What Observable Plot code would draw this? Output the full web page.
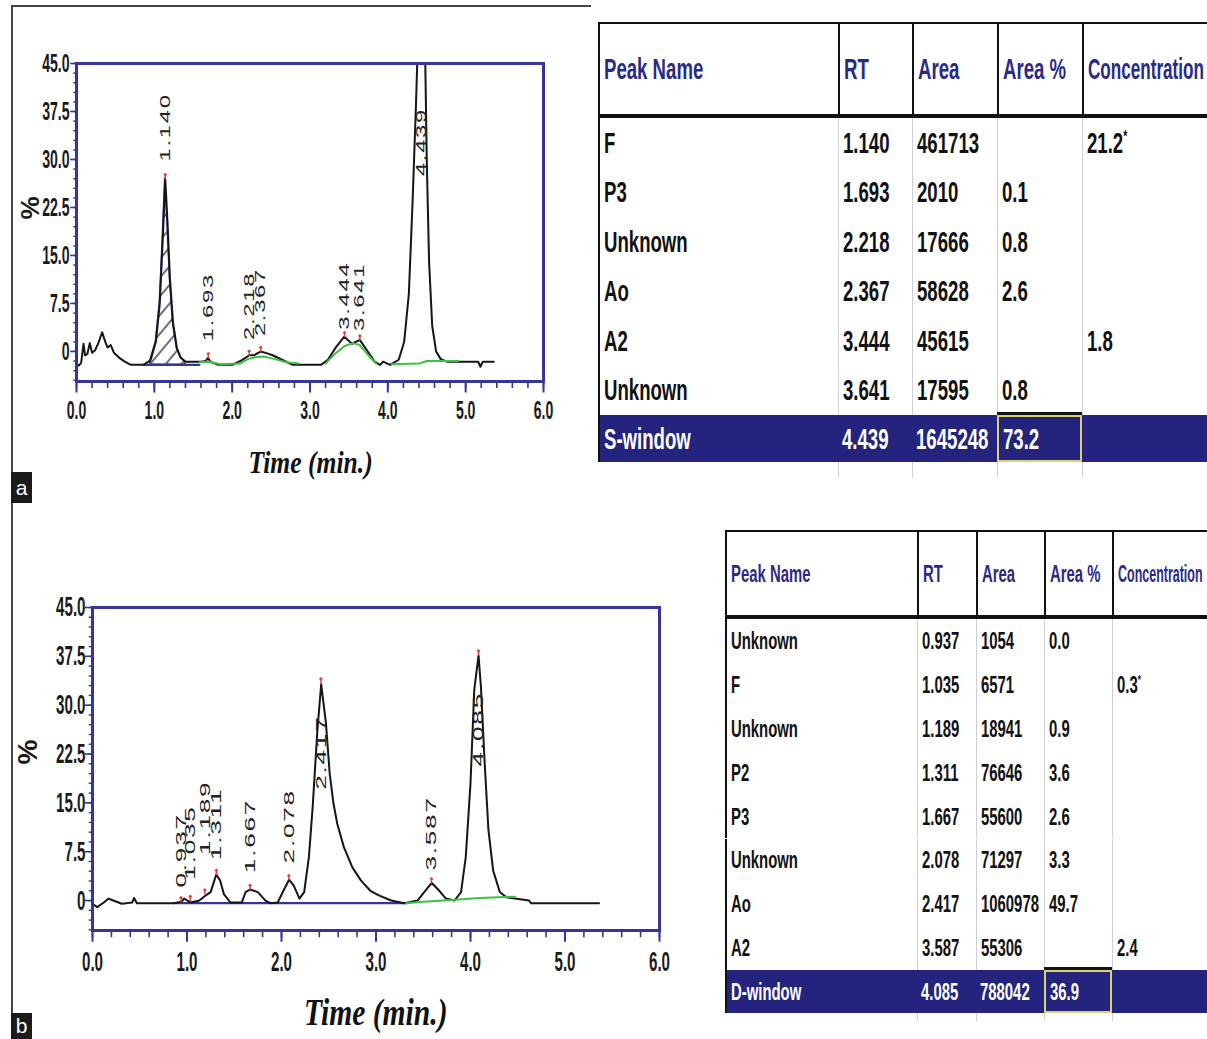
<!DOCTYPE html>
<html><head><meta charset="utf-8">
<script src="https://cdn.jsdelivr.net/npm/d3@7"></script>
<script src="https://cdn.jsdelivr.net/npm/@observablehq/plot@0.6"></script>
<style>
body{margin:0;background:#fff;}
#root{position:relative;width:1207px;height:1039px;overflow:hidden;background:#fff;font-family:"Liberation Sans",Arial,sans-serif;}
.abs{position:absolute;}
.sq{display:inline-block;transform-origin:0 50%;white-space:nowrap;}
.cell{position:absolute;box-sizing:border-box;display:flex;align-items:center;padding-left:4px;overflow:visible;font-weight:bold;}
</style></head>
<body><div id="root"></div>
<script>
// ---------------- DATA ----------------
// Panel a chromatogram trace: [time (min), signal (%)]
const traceA = [
[0.00,-2.0],[0.03,-2.2],[0.06,-1.8],[0.09,1.2],[0.11,-0.6],[0.14,-0.4],[0.17,1.3],[0.20,-0.2],[0.24,0.2],[0.28,1.3],
[0.33,3.0],[0.37,1.5],[0.40,0.6],[0.44,1.0],[0.48,-0.2],[0.55,-1.0],[0.62,-1.6],[0.70,-2.1],[0.86,-2.1],[0.95,-1.4],
[1.02,1.5],[1.07,7.5],[1.11,18.0],[1.14,27.0],[1.17,20.0],[1.20,11.5],[1.24,4.5],[1.29,0.5],[1.34,-1.0],[1.40,-1.6],
[1.60,-1.6],[1.66,-1.5],[1.69,-1.0],[1.72,-1.6],[1.82,-2.1],[2.00,-2.1],[2.12,-1.4],[2.22,-0.6],[2.28,-0.6],[2.37,0.0],
[2.45,-0.3],[2.52,-0.6],[2.64,-1.3],[2.78,-2.1],[3.14,-2.1],[3.23,-1.3],[3.33,0.6],[3.44,2.3],[3.54,1.2],[3.64,1.8],
[3.74,0.0],[3.83,-1.6],[3.90,-2.1],[3.94,-1.6],[4.03,-2.1],[4.14,-1.3],[4.21,1.5],[4.27,9.0],[4.32,24.0],[4.36,38.0],
[4.38,46.0],[4.44,62.0],[4.48,46.0],[4.50,30.0],[4.53,14.0],[4.57,4.0],[4.62,0.0],[4.68,-1.2],[4.76,-1.6],[4.90,-1.6],
[5.16,-1.6],[5.19,-2.4],[5.22,-1.6],[5.36,-1.6]
];
// Panel a peaks: [retention time, apex signal, label foot]
const peaksA = [[1.140,27.0,29.7],[1.693,-1.0,1.6],[2.218,-0.6,1.8],[2.367,0.0,2.4],[3.444,2.3,3.4],[3.641,1.8,3.2],[4.439,46,27.4]];
const baseA = [[0.86,-2.1],[1.58,-2.1]];
const greenA = [
["g1",1.58,-1.7],["g1",1.70,-1.6],["g1",1.85,-2.0],["g1",2.10,-1.9],["g1",2.20,-1.2],["g1",2.30,-0.9],["g1",2.40,-0.8],["g1",2.55,-1.2],["g1",2.70,-1.7],["g1",2.85,-1.9],
["g2",3.20,-1.9],["g2",3.30,-0.6],["g2",3.44,0.8],["g2",3.55,1.3],["g2",3.64,1.0],["g2",3.75,-0.6],["g2",3.85,-1.9],
["g3",4.05,-2.0],["g3",4.40,-1.9],["g3",4.50,-1.5],["g3",4.90,-1.5]
];
const hatchA = [0.95, 1.40, -2.1];

// Panel b chromatogram trace
const traceB = [
[0.00,-0.5],[0.05,-1.0],[0.12,-0.3],[0.17,0.3],[0.22,0.0],[0.31,-0.5],[0.42,-0.3],[0.44,0.4],[0.47,-0.4],[0.86,-0.4],
[0.94,-0.2],[0.97,0.3],[1.04,-0.3],[1.13,0.0],[1.20,0.8],[1.25,1.3],[1.31,4.0],[1.35,3.1],[1.39,1.0],[1.46,-0.3],
[1.58,-0.3],[1.62,1.3],[1.67,1.7],[1.75,1.3],[1.83,0.0],[1.88,-0.4],[1.96,-0.3],[2.02,1.5],[2.08,3.2],[2.13,2.3],
[2.19,0.3],[2.24,1.3],[2.29,6.7],[2.33,14.4],[2.38,26.2],[2.42,33.2],[2.47,27.3],[2.51,19.5],[2.55,14.9],[2.59,11.8],
[2.66,8.2],[2.75,5.1],[2.84,3.1],[2.94,1.5],[3.03,0.8],[3.16,0.0],[3.30,-0.4],[3.44,0.0],[3.51,1.3],[3.59,2.7],
[3.67,1.5],[3.74,0.3],[3.83,0.0],[3.90,1.3],[3.95,6.7],[4.00,18.0],[4.04,32.4],[4.085,37.6],[4.11,32.9],[4.15,21.1],
[4.19,10.8],[4.24,4.6],[4.31,1.3],[4.38,0.5],[4.47,0.3],[4.62,0.0],[4.64,-0.4],[5.36,-0.4]
];
const peaksB = [[0.937,-0.2,2.0],[1.035,0.0,3.2],[1.189,1.0,7.0],[1.311,4.0,6.2],[1.667,1.7,4.2],[2.078,3.2,5.7],[2.417,33.4,17.0],[3.587,2.7,4.6],[4.085,37.7,20.6]];
const baseB = [[0.86,-0.4],[3.32,-0.4]];
const greenB = [["g1",3.32,-0.4],["g1",3.50,-0.2],["g1",3.80,0.1],["g1",4.10,0.4],["g1",4.47,0.6]];

// Axis ticks
const xTicks = [0,1,2,3,4,5,6];
const xMinor = d3.range(0, 6.01, 0.2).map(v => +v.toFixed(1));
const yTicks = [0,7.5,15,22.5,30,37.5,45];
const yMinor = d3.range(-4.5, 45.01, 1.5).map(v => +v.toFixed(1));

// Tables
const colsT = ["Peak Name","RT","Area","Area %","Concentration"];
const namesA = ["F","P3","Unknown","Ao","A2","Unknown","S-window"];
const rtA = ["1.140","1.693","2.218","2.367","3.444","3.641","4.439"];
const areaA = ["461713","2010","17666","58628","45615","17595","1645248"];
const pctA = ["","0.1","0.8","2.6","","0.8","73.2"];
const concA = ["21.2*","","","","1.8","",""];
const namesB = ["Unknown","F","Unknown","P2","P3","Unknown","Ao","A2","D-window"];
const rtB = ["0.937","1.035","1.189","1.311","1.667","2.078","2.417","3.587","4.085"];
const areaB = ["1054","6571","18941","76646","55600","71297","1060978","55306","788042"];
const pctB = ["0.0","","0.9","3.6","2.6","3.3","49.7","","36.9"];
const concB = ["","0.3*","","","","","","2.4",""];

// ---------------- DRAW ----------------
const navy = "#35359a";
const root = document.getElementById("root");
function div(css, html){ const d=document.createElement("div"); d.className="abs"; Object.assign(d.style, css); if(html!=null) d.innerHTML=html; root.appendChild(d); return d; }

function chromatogram(c){
  const X = d=>d[0], Y = d=>d[1];
  const yMin = c.yMin;
  const marks = [];
  if (c.hatch) marks.push(Plot.areaY(c.trace.filter(d=>d[0]>=c.hatch[0]&&d[0]<=c.hatch[1]), {x:X, y1:c.hatch[2], y2:Y, fill:"url(#"+c.id+"h)", stroke:navy, strokeWidth:1.6}));
  marks.push(
    Plot.line(c.base, {x:X, y:Y, stroke:navy, strokeWidth:2.2}),
    Plot.line(c.trace, {x:X, y:Y, stroke:"#151515", strokeWidth:2, clip:true}),
    Plot.line(c.green, {x:d=>d[1], y:d=>d[2], z:d=>d[0], stroke:"#3dc23d", strokeWidth:2}),
    Plot.vector(c.peaks, {x:d=>d[0], y:d=>d[1], length:5, anchor:"start", stroke:"#e23a3a", strokeWidth:1.5, clip:true}),
    Plot.text(c.peaks, {x:d=>d[0], y:d=>d[2], text:d=>d3.format(".3f")(d[0]), rotate:-90, textAnchor:"start", fontSize:c.labFs, fill:"#222", ariaDescription:"peaklab"}),
    Plot.frame({stroke:navy, strokeWidth:3}),
    Plot.ruleX(xMinor, {x:d=>d, y1:yMin, y2:yMin-1.1, stroke:navy, strokeWidth:1.6}),
    Plot.ruleX(xTicks, {x:d=>d, y1:yMin, y2:yMin-1.8, stroke:navy, strokeWidth:2}),
    Plot.ruleY(yMinor, {y:d=>d, x1:0, x2:-0.035, stroke:navy, strokeWidth:1.4}),
    Plot.ruleY(yTicks, {y:d=>d, x1:0, x2:-0.075, stroke:navy, strokeWidth:1.6}),
    Plot.text(xTicks, {x:d=>d, frameAnchor:"bottom", dy:c.xdy, text:d=>d.toFixed(1), fontSize:c.fs, fontWeight:"bold", fill:"#1a1a1a", ariaDescription:"ticklab"}),
    Plot.text(yTicks, {y:d=>d, frameAnchor:"left", dx:-7, textAnchor:"end", text:d=>d===0?"0":d.toFixed(1), fontSize:c.fs, fontWeight:"bold", fill:"#1a1a1a", ariaDescription:"ticklab"})
  );
  const p = Plot.plot({
    width:c.W, height:c.H, marginLeft:c.mL, marginRight:c.mR, marginTop:c.mT, marginBottom:c.mB,
    x:{domain:[0,6], axis:null}, y:{domain:[yMin,45], axis:null},
    style:{background:"transparent", overflow:"visible", fontFamily:"Liberation Sans, Arial, sans-serif"},
    marks
  });
  const s = d3.select(p);
  s.insert("defs", ":first-child").html(`<pattern id="${c.id}h" patternUnits="userSpaceOnUse" width="12" height="12" patternTransform="rotate(40)"><line x1="1" y1="0" x2="1" y2="12" stroke="#222" stroke-width="1.3"/></pattern>`);
  const addScale = (sel, sc) => s.selectAll(sel).each(function(){
    const t = this.getAttribute("transform");
    if (t) this.setAttribute("transform", t + ` scale(${sc},1)`);
    else {
      const x = this.getAttribute("x") || 0, y = this.getAttribute("y") || 0;
      this.removeAttribute("x"); this.removeAttribute("y");
      this.setAttribute("transform", `translate(${x},${y}) scale(${sc},1)`);
    }
  });
  addScale('[aria-description="peaklab"] text', c.labScale);
  addScale('[aria-description="ticklab"] text', c.tickScale);
  s.selectAll('[aria-description="peaklab"] text').style("letter-spacing","1px");
  p.style.position="absolute"; p.style.left=c.left+"px"; p.style.top=c.top+"px";
  root.appendChild(p);
}

chromatogram({id:"A", trace:traceA, peaks:peaksA, base:baseA, green:greenA, hatch:hatchA,
  left:0, top:0, W:600, H:500, mL:76, mR:57, mT:63, mB:119, yMin:-4.7, fs:26, tickScale:0.54, xdy:37, labFs:14, labScale:1.7});
chromatogram({id:"B", trace:traceB, peaks:peaksB, base:baseB, green:greenB, hatch:null,
  left:0, top:540, W:720, H:499, mL:92, mR:61, mT:67, mB:109, yMin:-4.6, fs:28, tickScale:0.54, xdy:40, labFs:15, labScale:1.75});

// axis titles
function ytitle(x,y,fs){ div({left:(x-20)+"px", top:(y-20)+"px", width:"40px", height:"40px", display:"flex", alignItems:"center", justifyContent:"center", transform:"rotate(-90deg)", fontSize:fs+"px", fontWeight:"bold", color:"#1a1a1a"}, "%"); }
ytitle(30,208,26); ytitle(28,752,28);
function xtitle(x,y,fs){ div({left:(x-150)+"px", top:(y-25)+"px", width:"300px", height:"50px", display:"flex", alignItems:"center", justifyContent:"center"},
  `<span style="display:inline-block;transform:scaleX(0.8);font-family:'Liberation Serif',serif;font-style:italic;font-weight:bold;font-size:${fs}px;color:#111">Time (min.)</span>`); }
xtitle(311,462,32); xtitle(376,1012,37);

// panel border + letters
div({left:"11px", top:"5px", width:"1.5px", height:"1034px", background:"#444"});
div({left:"11px", top:"5px", width:"580px", height:"1.5px", background:"#444"});
function letter(t,top,h){ div({left:"11px", top:top+"px", width:"21px", height:h+"px", background:"#1b1b1b", color:"#fff", fontSize:"21px", display:"flex", alignItems:"center", justifyContent:"center", fontFamily:"Liberation Sans, Arial"}, t); }
letter("a",472,31); letter("b",1013,26);

// tables
function table(cfg, cols){
  const L = cfg.edges[0];
  const edges = cfg.edges.concat([1207]);
  const n = cols[0].length;
  const sq = (t, sc) => `<span class="sq" style="transform:scaleX(${sc})">${t.replace("*","<sup style='font-size:55%'>*</sup>")}</span>`;
  const hTop = cfg.top;
  div({left:L+"px", top:hTop+"px", width:(1207-L)+"px", height:"2px", background:"#111"});
  colsT.forEach((h,i)=>{
    const c = div({left:edges[i]+"px", top:(hTop+2)+"px", width:(edges[i+1]-edges[i])+"px", height:(cfg.headH-6)+"px", borderLeft:"2px solid #111", color:"#2a2a86", fontSize:cfg.hfs+"px"}, sq(h, i===4?cfg.hsc4:cfg.sc));
    c.classList.add("cell");
  });
  div({left:L+"px", top:(hTop+cfg.headH-4)+"px", width:(1207-L)+"px", height:"4px", background:"#111"});
  const bodyTop = hTop + cfg.headH;
  for(let r=0;r<n;r++){
    const last = r===n-1;
    const top = bodyTop + r*cfg.rowH;
    const h = last ? cfg.lastH : cfg.rowH;
    if(last) div({left:L+"px", top:top+"px", width:(1207-L)+"px", height:h+"px", background:"#24247e"});
    cols.forEach((col,i)=>{
      const css = {left:edges[i]+"px", top:top+"px", width:(edges[i+1]-edges[i])+"px", height:h+"px", color:last?"#fff":"#111", fontSize:cfg.fs+"px",
        borderLeft: i===0 ? "2px solid #111" : (last ? "none" : "1px solid #cfcfd8")};
      if(last && i===3){ css.border="2px solid #d9d272"; }
      const c = div(css, sq(col[r], cfg.sc));
      c.classList.add("cell");
      if(last && i===3) div({left:edges[i]+"px", top:(top-3)+"px", width:(edges[i+1]-edges[i])+"px", height:"3px", background:"#111"});
    });
  }
  const tailTop = bodyTop + (n-1)*cfg.rowH + cfg.lastH;
  for(let i=1;i<5;i++) div({left:edges[i]+"px", top:tailTop+"px", width:"1px", height:cfg.tail+"px", background:"#cfcfd8"});
}
table({edges:[598,838,912,997,1082], top:22, headH:96, rowH:49.5, lastH:47, tail:16, fs:30, hfs:30, sc:0.62, hsc4:0.57},
  [namesA, rtA, areaA, pctA, concA]);
table({edges:[725,917,976,1044,1112], top:530, headH:89, rowH:43.9, lastH:43, tail:8, fs:24, hfs:24, sc:0.62, hsc4:0.52},
  [namesB, rtB, areaB, pctB, concB]);
</script></body></html>
